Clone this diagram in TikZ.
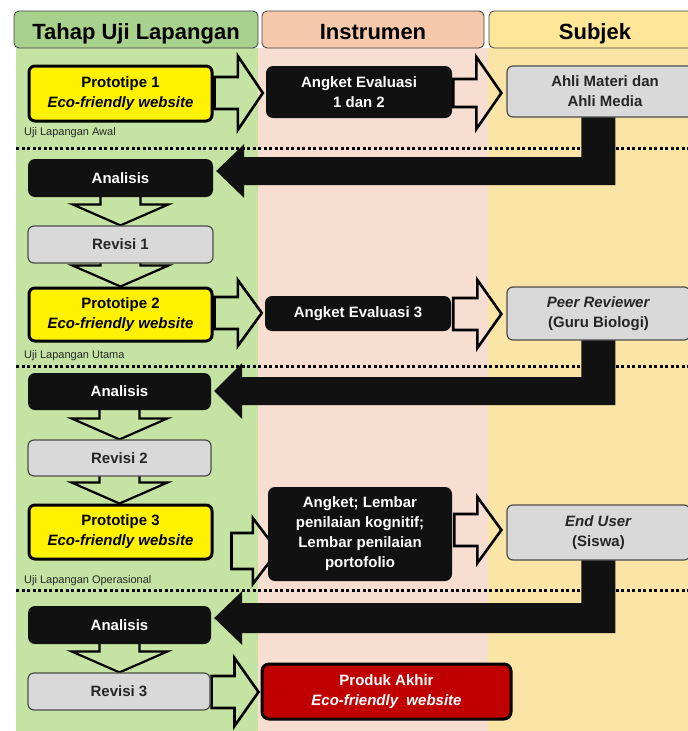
\documentclass[tikz,border=0pt]{standalone}
\usepackage{fontspec}
\setmainfont{Liberation Sans}
\usetikzlibrary{calc}
\definecolor{gbg}{HTML}{C5E3A2}
\definecolor{pbg}{HTML}{F8DED0}
\definecolor{ybg}{HTML}{FBE5A6}
\definecolor{ghd}{HTML}{A9D18E}
\definecolor{phd}{HTML}{F7C9AC}
\definecolor{yhd}{HTML}{FFE699}
\definecolor{blk}{HTML}{111111}
\definecolor{gry}{HTML}{D9D9D9}
\definecolor{prodred}{HTML}{C00000}
\pgfdeclarelayer{back}
\pgfdeclarelayer{mid}
\pgfsetlayers{back,mid,main}
\tikzset{
  hdr/.style={draw=black!75, line width=0.8pt, rounded corners=5pt, inner sep=0pt, text height=20pt, text depth=0pt, font=\fontsize{22}{24}\selectfont\bfseries},
  boxtxt/.style={inner sep=0pt, align=center, font=\fontsize{15}{20}\selectfont\bfseries},
  yelbox/.style={boxtxt, draw=black, fill=yellow, line width=3pt, rounded corners=6pt},
  blkbox/.style={boxtxt, fill=blk, text=white, rounded corners=7pt},
  grybox/.style={boxtxt, draw=black!70, fill=gry, line width=1.2pt, rounded corners=6pt, text=black!85},
  redbox/.style={boxtxt, draw=black, fill=prodred, text=white, line width=3pt, rounded corners=7pt},
  outarr/.style={draw=black, line width=2.6pt, line join=miter},
  stage/.style={anchor=base west, inner sep=0pt, font=\fontsize{11}{12}\selectfont, text=black!85},
  sep/.style={line width=3pt, dash pattern=on 3pt off 2.5pt, black}
}
% horizontal outline block arrow: from, to, yc, shaft half, head half, head length, tip offset, start offset
\newcommand\harrow[8]{%
  \coordinate (ha) at ($(#1.east|-0,#3)+(#8,0)$);
  \coordinate (hb) at ($(#2.west|-0,#3)+(#7,0)$);
  \draw[outarr] ($(ha)+(0,-#4)$) -- ($(hb)+(-#6,-#4)$) -- ($(hb)+(-#6,-#5)$) -- (hb)
     -- ($(hb)+(-#6,#5)$) -- ($(hb)+(-#6,#4)$) -- ($(ha)+(0,#4)$) -- cycle;}
% vertical outline block arrow: from, to
\newcommand\varrow[2]{%
  \coordinate (va) at ($(#1.south)+(0,-1)$);
  \coordinate (vb) at (#1.south|-#2.north);
  \draw[outarr, line width=2.2pt] ($(va)+(-20,0)$) -- ($(vb)+(-20,-21)$) -- ($(vb)+(-48,-21)$) -- (vb)
     -- ($(vb)+(48,-21)$) -- ($(vb)+(20,-21)$) -- ($(va)+(20,0)$);}
% L-shaped filled connector: from, to, yc, shaft half, head half
\newcommand\lconn[5]{%
  \coordinate (la) at ($(#1.south west)+(75,-3)$);
  \coordinate (lt) at ($(#2.east|-0,#3)+(3,0)$);
  \fill[blk] (la) -- (la|-0,#3-#4) -- ($(lt)+(28,-#4)$) -- ($(lt)+(28,-#5)$) -- (lt)
     -- ($(lt)+(28,#5)$) -- ($(lt)+(28,#4)$) -- ($(la|-0,#3+#4)+(34,0)$) -- ($(la)+(34,0)$) -- cycle;}
\begin{document}
\begin{tikzpicture}[x=1pt,y=-1pt]
\useasboundingbox (0,0) rectangle (688,731);
% headers
\node[hdr, fill=ghd, minimum width=244pt, minimum height=37pt] (h1) at (136,29.5) {Tahap Uji Lapangan};
\node[hdr, fill=phd, minimum width=222pt, minimum height=37pt] (h2) at (373,29.5) {Instrumen};
\node[hdr, fill=yhd, minimum width=212pt, minimum height=37pt] (h3) at (595,29.5) {Subjek};
% column 1
\node[yelbox, minimum width=183pt, minimum height=55pt] (p1) at (120.5,93.5) {Prototipe 1\\\textit{Eco-friendly website}};
\node[blkbox, minimum width=185pt, minimum height=38pt] (an1) at (120.5,178) {Analisis};
\node[grybox, minimum width=185pt, minimum height=37pt] (r1) at (120.5,244.5) {Revisi 1};
\node[yelbox, minimum width=183pt, minimum height=53pt] (p2) at (120.5,314.5) {Prototipe 2\\\textit{Eco-friendly website}};
\node[blkbox, minimum width=183pt, minimum height=37pt] (an2) at (119.5,391.5) {Analisis};
\node[grybox, minimum width=183pt, minimum height=36pt] (r2) at (119.5,458) {Revisi 2};
\node[yelbox, minimum width=183pt, minimum height=54pt] (p3) at (120.5,532) {Prototipe 3\\\textit{Eco-friendly website}};
\node[blkbox, minimum width=183pt, minimum height=38pt] (an3) at (119.5,625) {Analisis};
\node[grybox, minimum width=182pt, minimum height=37pt] (r3) at (119,691.5) {Revisi 3};
% column 2
\node[blkbox, minimum width=186pt, minimum height=52pt] (i1) at (359,92) {Angket Evaluasi\\1 dan 2};
\node[blkbox, minimum width=186pt, minimum height=35pt] (i2) at (358,313.5) {Angket Evaluasi 3};
\node[blkbox, minimum width=184pt, minimum height=94pt] (i3) at (360,534) {Angket; Lembar\\penilaian kognitif;\\Lembar penilaian\\portofolio};
\node[redbox, minimum width=249pt, minimum height=55pt] (prod) at (386.5,691.5) {Produk Akhir\\\textit{Eco-friendly\ \ website}};
% column 3
\node[grybox, minimum width=196pt, minimum height=51pt] (s1) at (605,91.5) {Ahli Materi dan\\Ahli Media};
\node[grybox, minimum width=183pt, minimum height=53pt] (s2) at (598.5,313.5) {\textit{Peer Reviewer}\\(Guru Biologi)};
\node[grybox, minimum width=183pt, minimum height=55pt] (s3) at (598.5,532.5) {\textit{End User}\\(Siswa)};
% stage labels
\node[stage] (l1) at (24,135) {Uji Lapangan Awal};
\node[stage] (l2) at (24,358) {Uji Lapangan Utama};
\node[stage] (l3) at (24,583) {Uji Lapangan Operasional};
% backgrounds
\begin{pgfonlayer}{back}
  \fill[gbg] (16,48) rectangle (258,731);
  \fill[pbg] (258,48) rectangle (488,731);
  \fill[ybg] (488,48) rectangle (688,731);
  \draw[sep] (16,148) -- (688,148);
  \draw[sep] (16,366) -- (688,366);
  \draw[sep] (16,590) -- (688,590);
\end{pgfonlayer}
% connectors
\begin{pgfonlayer}{mid}
  \harrow{p1}{i1}{93}{16}{37}{25}{-3}{1}
  \harrow{i1}{s1}{93}{14}{36}{25}{-5}{1}
  \harrow{p2}{i2}{313}{16}{33}{24}{-3}{1}
  \harrow{i2}{s2}{314}{16}{34}{24}{-5}{2}
  \harrow{p3}{i3}{551}{18}{33}{25}{10}{18}
  \harrow{i3}{s3}{530}{16}{33}{24}{-5}{2}
  \harrow{r3}{prod}{692}{16}{34}{24}{-2}{1}
  \varrow{an1}{r1}
  \varrow{r1}{p2}
  \varrow{an2}{r2}
  \varrow{r2}{p3}
  \varrow{an3}{r3}
  \lconn{s1}{an1}{171}{14}{27}
  \lconn{s2}{an2}{391}{14}{28}
  \lconn{s3}{an3}{618}{15}{27}
\end{pgfonlayer}
\end{tikzpicture}
\end{document}
